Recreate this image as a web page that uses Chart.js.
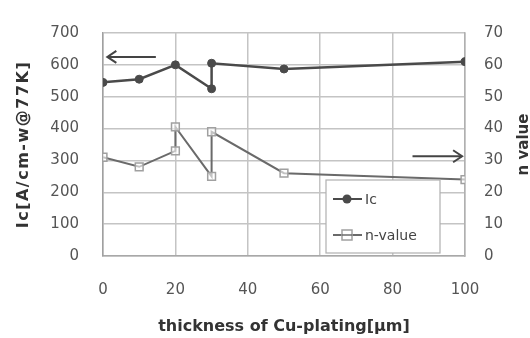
<!DOCTYPE html>
<html>
<head>
<meta charset="utf-8">
<script src="https://cdn.jsdelivr.net/npm/chart.js@4/dist/chart.umd.min.js"></script>
<style>
  html, body { margin: 0; padding: 0; background: #fff; }
  #wrap { width: 530px; height: 338px; position: relative; }
</style>
</head>
<body>
<div id="wrap"><canvas id="c" width="530" height="338"></canvas></div>
<script>
// Cu-plating thickness [um] for each measurement
const icThickness = [0, 10, 20, 30, 30, 50, 100];
const icValues    = [545, 555, 600, 525, 605, 587, 610];

const nThickness  = [0, 10, 20, 20, 30, 30, 50, 100];
const nValues     = [31, 28, 33, 40.5, 25, 39, 26, 24];

const xTicks  = [0, 20, 40, 60, 80, 100];
const icTicks = [0, 100, 200, 300, 400, 500, 600, 700];
const nTicks  = [0, 10, 20, 30, 40, 50, 60, 70];

const seriesNames = ['Ic', 'n-value'];
const leftTitle  = 'Ic[A/cm-w@77K]';
const rightTitle = 'n value';
const bottomTitle = 'thickness of Cu-plating[\u03bcm]';

const FONT = 'DejaVu Sans';
const TXT = '#555555';
const GRID = '#c4c4c4';

const pts = (xs, ys) => xs.map((x, i) => ({ x, y: ys[i] }));

// axis titles, the two direction arrows and the legend box
const decorations = {
  id: 'decorations',
  afterDraw(chart) {
    const { ctx, chartArea: a, scales } = chart;
    const sx = scales.x, sl = scales.yIc, sr = scales.yN;
    ctx.save();

    // axis titles
    ctx.fillStyle = '#333333';
    ctx.textAlign = 'center';
    ctx.textBaseline = 'middle';
    ctx.save();
    ctx.font = 'bold 16px "' + FONT + '"';
    ctx.letterSpacing = '1.5px';
    ctx.translate(24, (a.top + a.bottom) / 2);
    ctx.rotate(-Math.PI / 2);
    ctx.fillText(leftTitle, 0, 0);
    ctx.restore();
    ctx.save();
    ctx.font = 'bold 15px "' + FONT + '"';
    ctx.translate(524, (a.top + a.bottom) / 2);
    ctx.rotate(-Math.PI / 2);
    ctx.fillText(rightTitle, 0, 0);
    ctx.restore();
    ctx.font = 'bold 16px "' + FONT + '"';
    ctx.fillText(bottomTitle, (a.left + a.right) / 2, 327);

    // arrows pointing at each series' own axis
    const arrow = (x1, x2, y, dir) => {
      ctx.strokeStyle = '#444444';
      ctx.lineWidth = 2;
      ctx.beginPath();
      ctx.moveTo(x1, y);
      ctx.lineTo(x2, y);
      ctx.stroke();
      ctx.beginPath();
      ctx.moveTo(x2 - dir * 9, y - 6);
      ctx.lineTo(x2, y);
      ctx.lineTo(x2 - dir * 9, y + 6);
      ctx.stroke();
    };
    arrow(sx.getPixelForValue(14.6), sx.getPixelForValue(1.2), sl.getPixelForValue(625), -1);
    arrow(sx.getPixelForValue(85.5), sx.getPixelForValue(99.2), sr.getPixelForValue(31.3), 1);

    // legend
    const bx = 326, by = 180, bw = 114, bh = 73;
    ctx.fillStyle = '#ffffff';
    ctx.fillRect(bx, by, bw, bh);
    ctx.strokeStyle = '#b0b0b0';
    ctx.lineWidth = 1.2;
    ctx.strokeRect(bx, by, bw, bh);
    const rows = [by + 19, by + 55];
    chart.data.datasets.forEach((ds, i) => {
      const y = rows[i];
      ctx.strokeStyle = ds.borderColor;
      ctx.lineWidth = 2;
      ctx.beginPath();
      ctx.moveTo(bx + 7, y);
      ctx.lineTo(bx + 36, y);
      ctx.stroke();
      if (i === 0) {
        ctx.fillStyle = ds.pointBackgroundColor;
        ctx.beginPath();
        ctx.arc(bx + 21, y, 4.5, 0, Math.PI * 2);
        ctx.fill();
      } else {
        ctx.fillStyle = '#ffffff';
        ctx.strokeStyle = ds.pointBorderColor;
        ctx.lineWidth = 1.5;
        ctx.fillRect(bx + 16, y - 5, 10, 10);
        ctx.strokeRect(bx + 16, y - 5, 10, 10);
        ctx.strokeStyle = ds.borderColor;
        ctx.beginPath();
        ctx.moveTo(bx + 16, y);
        ctx.lineTo(bx + 26, y);
        ctx.stroke();
      }
      ctx.fillStyle = '#444444';
      ctx.font = '14px "' + FONT + '"';
      ctx.textAlign = 'left';
      ctx.fillText(ds.label, bx + 39, y + 1);
    });
    ctx.restore();
  }
};

new Chart(document.getElementById('c'), {
  type: 'line',
  data: {
    datasets: [
      {
        label: seriesNames[0],
        data: pts(icThickness, icValues),
        yAxisID: 'yIc',
        borderColor: '#4a4a4a',
        borderWidth: 2.5,
        pointStyle: 'circle',
        pointRadius: 4,
        pointBorderWidth: 1,
        pointBackgroundColor: '#4a4a4a',
        pointBorderColor: '#4a4a4a',
        tension: 0
      },
      {
        label: seriesNames[1],
        data: pts(nThickness, nValues),
        yAxisID: 'yN',
        borderColor: '#6a6a6a',
        borderWidth: 2,
        pointStyle: 'rect',
        pointRadius: 5.5,
        pointBorderWidth: 1.5,
        pointBackgroundColor: 'rgba(255,255,255,0.6)',
        pointBorderColor: '#a0a0a0',
        tension: 0
      }
    ]
  },
  options: {
    responsive: false,
    animation: false,
    layout: { padding: { top: 26, left: 0, right: 0, bottom: 0 } },
    plugins: { legend: { display: false }, tooltip: { enabled: false } },
    scales: {
      x: {
        type: 'linear',
        min: 0, max: 100,
        afterBuildTicks: s => { s.ticks = xTicks.map(v => ({ value: v })); },
        afterFit: s => { s.height = 82; },
        ticks: { color: TXT, font: { family: FONT, size: 15 }, padding: 25 },
        grid: { color: GRID, lineWidth: 1.5, drawTicks: false },
        border: { color: '#a8a8a8', width: 1.5 }
      },
      yIc: {
        position: 'left',
        min: 0, max: 700,
        afterBuildTicks: s => { s.ticks = icTicks.map(v => ({ value: v })); },
        afterFit: s => { s.width = 103; },
        ticks: { color: TXT, font: { family: FONT, size: 15 }, padding: 24 },
        grid: { color: GRID, lineWidth: 1.5, drawTicks: false },
        border: { color: '#a0a0a0', width: 1.5 }
      },
      yN: {
        position: 'right',
        min: 0, max: 70,
        afterBuildTicks: s => { s.ticks = nTicks.map(v => ({ value: v })); },
        afterFit: s => { s.width = 65; },
        ticks: { color: TXT, font: { family: FONT, size: 15 }, padding: 19 },
        grid: { display: false, drawTicks: false },
        border: { color: '#b0b0b0', width: 1.5 }
      }
    }
  },
  plugins: [decorations]
});
</script>
</body>
</html>
